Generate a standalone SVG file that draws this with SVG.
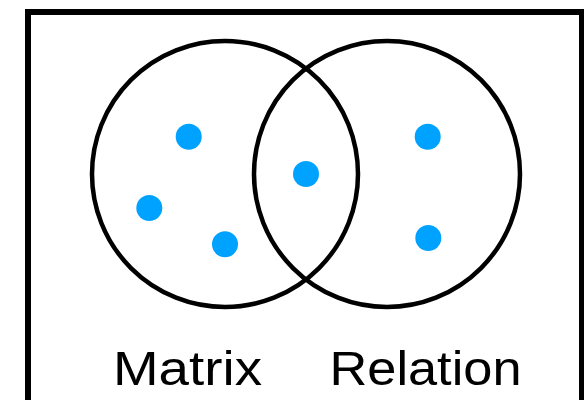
<svg xmlns="http://www.w3.org/2000/svg" width="584" height="400" viewBox="0 0 584 400">
<style>
.frame{fill:none;stroke:#000;stroke-width:6}
.set{fill:none;stroke:#000;stroke-width:4.5}
.dot{fill:#00a2ff}
.lbl{font-family:"Liberation Sans",Arial,Helvetica,sans-serif;font-size:49px;fill:#000}
</style>
<rect width="584" height="400" fill="#fff"/>
<rect class="frame" x="28" y="12" width="554" height="420"/>
<g id="matrix">
<circle class="set" cx="225" cy="174" r="133"/>
<text class="lbl" x="113" y="385" textLength="149" lengthAdjust="spacingAndGlyphs">Matrix</text>
</g>
<g id="relation">
<circle class="set" cx="387" cy="174" r="133"/>
<text class="lbl" x="329.5" y="385" textLength="192" lengthAdjust="spacingAndGlyphs">Relation</text>
</g>
<g id="points">
<circle class="dot" cx="188.7" cy="136.7" r="13"/>
<circle class="dot" cx="149.3" cy="208" r="13"/>
<circle class="dot" cx="225" cy="244.3" r="13"/>
<circle class="dot" cx="306" cy="174" r="13"/>
<circle class="dot" cx="427.7" cy="136.7" r="13"/>
<circle class="dot" cx="428.3" cy="238" r="13"/>
</g>
<g id="connectors"/>
</svg>
